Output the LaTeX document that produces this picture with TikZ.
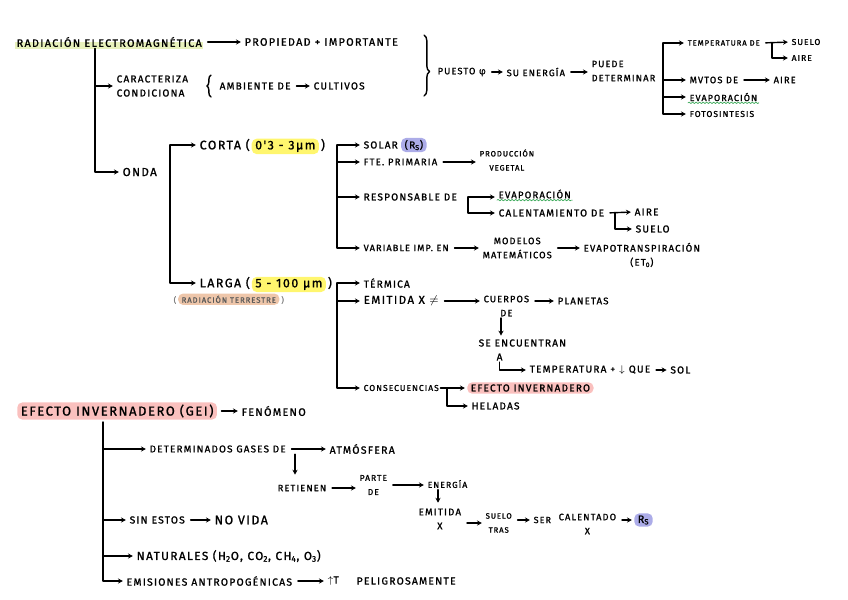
\documentclass[tikz,border=0pt]{standalone}
\usepackage{fontspec}
\newfontfamily\hand[LetterSpace=12, FakeBold=1.2]{Fira Sans}
\usetikzlibrary{positioning, arrows.meta, backgrounds, decorations.pathmorphing, decorations.pathreplacing}
\definecolor{hlgreen}{RGB}{232,241,188}
\definecolor{hlyellow}{RGB}{255,246,110}
\definecolor{hlpurple}{RGB}{172,172,232}
\definecolor{hlpink}{RGB}{250,192,190}
\definecolor{hlpeach}{RGB}{238,198,170}
\definecolor{wavygreen}{RGB}{60,170,90}
\tikzset{
  lbl/.style={font=\hand\fontsize{\fpeval{#1*1.1}}{10}\selectfont, inner sep=1pt, anchor=west, align=center},
  lbl/.default=6.5,
  arr/.style={-{Stealth[length=3.5pt,width=3.6pt]}, line width=1pt, shorten >=1.5pt},
  link/.style={arr, shorten <=3pt},
  pill/.style={rounded corners=3.5pt, inner xsep=2.5pt, inner ysep=1.5pt},
  wavy/.style={draw=wavygreen, line width=0.5pt, decorate, decoration={snake, amplitude=0.5pt, segment length=2.5pt}},
  brc/.style={line width=1pt, decorate, decoration={brace, amplitude=#1}},
  brc/.default=4pt
}
\begin{document}
\begin{tikzpicture}[x=0.025cm, y=-0.025cm, line cap=round, line join=round]
  \useasboundingbox (0,0) rectangle (848,599);
  % radiacion electromagnetica
  \node[lbl=7] (rad) at (15,42) {RADIACIÓN ELECTROMAGNÉTICA};
  \begin{scope}[on background layer]
    \fill[hlgreen] (rad.south west) rectangle (rad.east);
  \end{scope}
  \node[lbl=7] (prop) at (243,42) {PROPIEDAD + IMPORTANTE};
  \draw[link] (rad) -- (prop);
  \node[lbl, align=left] (car) at (115,86) {CARACTERIZA\\CONDICIONA};
  \draw[brc=3pt] (211,97) -- (211,75);
  \node[lbl] (amb) at (218,86) {AMBIENTE DE};
  \node[lbl] (cult) at (312,86) {CULTIVOS};
  \draw[link] (amb) -- (cult);
  \draw[brc, decoration={aspect=0.6}] (424,35) -- (424,96);
  % puesto -> energia -> puede determinar
  \node[lbl=6] (puesto) at (436,72) {PUESTO φ};
  \node[lbl=6] (ener) at (505,72) {SU ENERGÍA};
  \node[lbl=6, align=left] (puede) at (590,71) {PUEDE\\DETERMINAR};
  \draw[link] (puesto) -- (ener);
  \draw[link] (ener.east) -- (ener.east -| puede.west);
  \node[lbl=5] (temp) at (686,43) {TEMPERATURA DE};
  \node[lbl=5.5] (suelo1) at (790,42) {SUELO};
  \node[lbl=5.5] (aire1) at (790,58) {AIRE};
  \node[lbl=6] (mvtos) at (688,80) {MVTOS DE};
  \node[lbl=6] (aire2) at (772,80) {AIRE};
  \node[lbl=5.8] (evap1) at (688,97) {EVAPORACIÓN};
  \node[lbl=5.5] (foto) at (688,114) {FOTOSINTESIS};
  \coordinate (db) at (663,43);
  \draw[arr] (db) -- (temp.west);
  \draw[arr] (db |- mvtos.west) -- (mvtos.west);
  \draw[arr] (db |- evap1.west) -- (evap1.west);
  \draw[arr] (db) |- (foto.west);
  \draw[link] (temp.east) -- (suelo1.west);
  \draw[arr] (temp.east -| 772,0) |- (aire1.west);
  \draw[link] (mvtos) -- (aire2);
  \draw[wavy] (evap1.south west) -- (evap1.south east);
  % onda: corta y larga
  \node[lbl=7.5] (onda) at (121,172) {ONDA};
  \draw[arr] (rad.south -| 95,0) |- (car.west);
  \draw[arr] (rad.south -| 95,0) |- (onda.west);
  \node[lbl=8] (corta) at (198,145) {CORTA (};
  \node[lbl=8, pill, fill=hlyellow, base right=0pt of corta] (cortaw) {0'3 - 3μm};
  \node[lbl=8, base right=0pt of cortaw] (cortac) {)};
  \node[lbl=8] (larga) at (198,283) {LARGA (};
  \node[lbl=8, pill, fill=hlyellow, base right=0pt of larga] (largaw) {5 - 100 μm};
  \node[lbl=8, base right=0pt of largaw] (largac) {)};
  \node[lbl=5, text=gray] (terrl) at (172,300) {(};
  \node[lbl=5, pill, fill=hlpeach, text=gray!70!black, base right=0pt of terrl] (terr) {RADIACIÓN TERRESTRE};
  \node[lbl=5, text=gray, base right=0pt of terr] (terrr) {)};
  \coordinate (ob) at (170,145);
  \draw[arr] (ob) -- (corta.west);
  \draw[arr] (ob) |- (larga.west);
  % onda corta
  \node[lbl] (solar) at (362,145) {SOLAR};
  \node[lbl, pill, fill=hlpurple, base right=1pt of solar] (rs1) {(R\textsubscript{S})};
  \node[lbl=6.2] (fte) at (362,162) {FTE. PRIMARIA};
  \node[lbl=5] (prod) at (478,160) {PRODUCCIÓN\\VEGETAL};
  \node[lbl] (resp) at (362,197) {RESPONSABLE DE};
  \node[lbl=6.2] (evap2) at (497,194) {EVAPORACIÓN};
  \node[lbl] (calen) at (497,213) {CALENTAMIENTO DE};
  \node[lbl] (aire3) at (633,212) {AIRE};
  \node[lbl] (suelo3) at (634,229) {SUELO};
  \node[lbl=5.9] (var) at (362,248) {VARIABLE IMP. EN};
  \node[lbl=6] (mod) at (481,248) {MODELOS\\MATEMÁTICOS};
  \node[lbl=6.2] (evt) at (582,255) {EVAPOTRANSPIRACIÓN\\(ET\textsubscript{0})};
  \coordinate (cb) at (337,145);
  \draw[arr] (cb) -- (solar.west);
  \draw[arr] (cb |- fte.west) -- (fte.west);
  \draw[arr] (cb |- resp.west) -- (resp.west);
  \draw[arr] (cb) |- (var.west);
  \draw[link] (fte.east) -- (fte.east -| prod.west);
  \draw[arr] (resp.east -| 468,0) -- (resp.east -| evap2.west);
  \draw[arr] (resp.east -| 468,0) |- (calen.west);
  \draw[wavy] (evap2.south west) -- (evap2.south east);
  \draw[link] (calen.east) -- (aire3.west);
  \draw[arr] (calen.east -| 615,0) |- (suelo3.west);
  \draw[link] (var.east) -- (var.east -| mod.west);
  \draw[link] (mod.east) -- (mod.east -| evt.west);
  % onda larga
  \node[lbl] (term) at (362,283) {TÉRMICA};
  \node[lbl=7.5] (emit) at (362,301) {EMITIDA X $\neq$};
  \node[lbl=6] (cuer) at (482,306) {CUERPOS\\DE};
  \node[lbl=6.2] (plan) at (556,301) {PLANETAS};
  \node[lbl=6.5] (se) at (477,343) {SE ENCUENTRAN};
  \node[lbl=6.5] (sea) at (495,357) {A};
  \node[lbl=6.5] (temp2) at (528,370) {TEMPERATURA + $\downarrow$ QUE};
  \node[lbl=6.5, right=12pt of temp2] (sol) {SOL};
  \node[lbl=5.5] (cons) at (362,388) {CONSECUENCIAS};
  \node[lbl, pill, fill=hlpink] (efe1) at (467,388) {EFECTO INVERNADERO};
  \node[lbl] (hel) at (470,406) {HELADAS};
  \coordinate (lb) at (337,283);
  \draw[arr] (lb) -- (term.west);
  \draw[arr] (lb |- emit.west) -- (emit.west);
  \draw[arr] (lb) |- (cons.west);
  \draw[link] (emit.east) -- (emit.east -| cuer.west);
  \draw[link] (cuer.east |- plan.west) -- (plan.west);
  \draw[arr] (cuer.south -| 501,0) -- (se.north -| 501,0);
  \draw[arr] (sea.south) |- (temp2.west);
  \draw[link] (temp2) -- (sol);
  \draw[arr] (cons.east) -- (efe1.west);
  \draw[arr] (cons.east -| 447,0) |- (hel.west);
  % efecto invernadero
  \node[lbl=8.4, pill, fill=hlpink] (gei) at (17,411) {EFECTO INVERNADERO (GEI)};
  \node[lbl=7] (fen) at (240,411) {FENÓMENO};
  \draw[link] (gei) -- (fen);
  \node[lbl=6.4] (det) at (148,449) {DETERMINADOS GASES DE};
  \node[lbl=6.8] (atm) at (328,449) {ATMÓSFERA};
  \node[lbl=6] (ret) at (276,488) {RETIENEN};
  \node[lbl=5.5] (part) at (358,485) {PARTE\\DE};
  \node[lbl=5.6] (ene) at (426,484) {ENERGÍA};
  \node[lbl=6.3] (emit2) at (417,519) {EMITIDA\\X};
  \node[lbl=5] (suelo4) at (484,523) {SUELO\\TRAS};
  \node[lbl=5.8] (ser) at (532,520) {SER};
  \node[lbl=6] (cal) at (557,524) {CALENTADO\\X};
  \node[lbl=7, pill, fill=hlpurple] (rs2) at (634,520) {R\textsubscript{S}};
  \draw[link] (det) -- (atm);
  \draw[arr, shorten >=6pt] (det.south -| 295,0) -- (ret.north -| 295,0);
  \draw[link] (ret.east) -- (ret.east -| part.west);
  \draw[link] (part.east) -- (part.east -| ene.west);
  \draw[arr, shorten >=3pt] (ene.south -| 438,0) -- (emit2.north -| 438,0);
  \draw[link] (emit2.east |- suelo4.west) -- (suelo4.west);
  \draw[link] (suelo4.east |- ser.west) -- (ser.west);
  \draw[link] (cal.east |- rs2.west) -- (rs2.west);
  \node[lbl=6.6] (sin) at (128,520) {SIN ESTOS};
  \node[lbl=8] (nov) at (213,520) {NO VIDA};
  \draw[link] (sin) -- (nov);
  \node[lbl=7.6] (nat) at (135,556) {NATURALES (H\textsubscript{2}O, CO\textsubscript{2}, CH\textsubscript{4}, O\textsubscript{3})};
  \node[lbl=6.7] (emis) at (125,581) {EMISIONES ANTROPOGÉNICAS};
  \node[lbl=6.7] (sube) at (326,581) {$\uparrow$T};
  \node[lbl=6.7] (pel) at (355,581) {PELIGROSAMENTE};
  \draw[link] (emis) -- (sube);
  \coordinate (gb) at (103,422);
  \draw[arr] (gb |- det.west) -- (det.west);
  \draw[arr] (gb |- sin.west) -- (sin.west);
  \draw[arr] (gb |- nat.west) -- (nat.west);
  \draw[arr] (gb) |- (emis.west);
\end{tikzpicture}
\end{document}
